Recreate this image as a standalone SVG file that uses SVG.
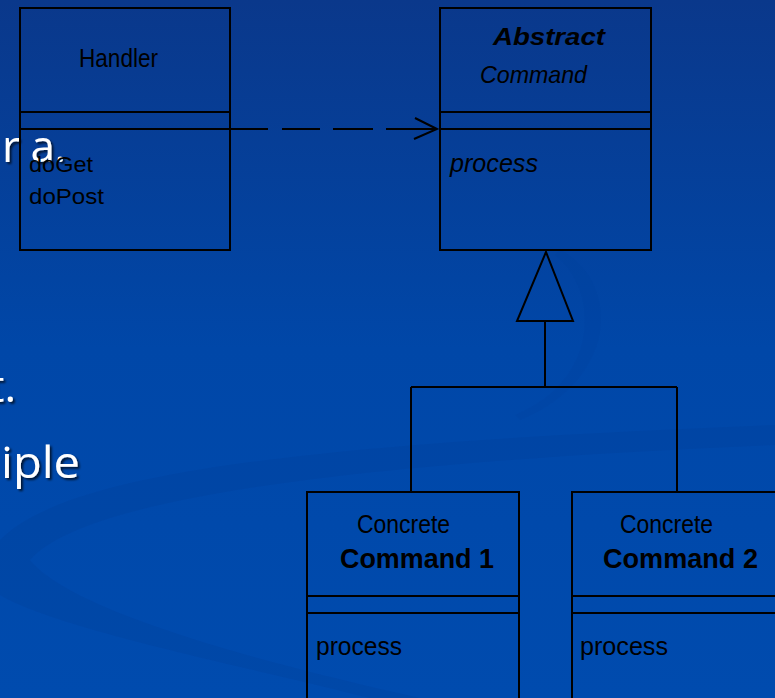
<svg xmlns="http://www.w3.org/2000/svg" width="775" height="698" viewBox="0 0 775 698">
<defs>
<linearGradient id="bg" x1="0" y1="0" x2="0" y2="1">
<stop offset="0" stop-color="#0a388b"/>
<stop offset="0.5" stop-color="#0047a8"/>
<stop offset="1" stop-color="#004bae"/>
</linearGradient>
<filter id="sh" x="-20%" y="-20%" width="140%" height="140%">
<feDropShadow dx="2" dy="2" stdDeviation="1" flood-color="#000" flood-opacity="0.7"/>
</filter>
</defs>
<style>
.box{fill:none;stroke:#000;stroke-width:2}
.ln{fill:none;stroke:#000;stroke-width:2}
.t{font-family:"Liberation Sans",Arial,sans-serif;fill:#000}
.it{font-style:italic}
.b{font-weight:bold}
.w{font-family:"Open Sans","Liberation Sans",sans-serif;font-size:44px;fill:#fff;filter:url(#sh)}
</style>
<rect width="775" height="698" fill="url(#bg)"/>
<g id="swoosh">
<path d="M0,540 C60,480 250,445 775,425 L775,445 C420,460 90,490 30,560 C70,610 250,660 420,698 L370,698 C240,665 60,630 0,595 Z" fill="#003a90" opacity="0.2"/>
<path d="M560,250 C620,280 620,380 520,420 L515,415 C600,380 600,290 555,255 Z" fill="#003a90" opacity="0.1"/>
</g>
<g id="slide-text">
<text class="w" x="2" y="162" textLength="64" lengthAdjust="spacing">r a.</text>
<text class="w" x="16" y="402" text-anchor="end">t.</text>
<text class="w" x="1" y="478" textLength="79" lengthAdjust="spacingAndGlyphs">iple</text>
</g>
<g id="connectors">
<path class="ln" d="M230,129H268 M282,129H320 M333,129H373 M386,129H437"/>
<polyline class="ln" points="415,118 437,129 414,139"/>
<polygon class="ln" points="546,252 517,321 573,321"/>
<path class="ln" d="M545,321V387 M411,387H677 M411,387V492 M677,387V492"/>
</g>
<g id="handler">
<rect class="box" x="20" y="8" width="210" height="242"/>
<path class="ln" d="M20,112H230 M20,129H230"/>
<text class="t" x="79" y="67" font-size="25" textLength="79" lengthAdjust="spacingAndGlyphs">Handler</text>
<text class="t" x="29" y="172" font-size="22" textLength="64" lengthAdjust="spacingAndGlyphs">doGet</text>
<text class="t" x="29" y="204" font-size="22" textLength="75" lengthAdjust="spacingAndGlyphs">doPost</text>
</g>
<g id="abstract-command">
<rect class="box" x="440" y="8" width="211" height="242"/>
<path class="ln" d="M440,112H651 M440,129H651"/>
<text class="t it b" x="493" y="45" font-size="23" textLength="112" lengthAdjust="spacingAndGlyphs">Abstract</text>
<text class="t it" x="480" y="83" font-size="24" textLength="107" lengthAdjust="spacingAndGlyphs">Command</text>
<text class="t it" x="450" y="172" font-size="26" textLength="88" lengthAdjust="spacingAndGlyphs">process</text>
</g>
<g id="concrete-command-1">
<rect class="box" x="307" y="492" width="212" height="230"/>
<path class="ln" d="M307,596H519 M307,613H519"/>
<text class="t" x="357" y="533" font-size="25" textLength="93" lengthAdjust="spacingAndGlyphs">Concrete</text>
<text class="t b" x="340" y="568" font-size="27" textLength="154" lengthAdjust="spacingAndGlyphs">Command 1</text>
<text class="t" x="316" y="655" font-size="26" textLength="86" lengthAdjust="spacingAndGlyphs">process</text>
</g>
<g id="concrete-command-2">
<rect class="box" x="572" y="492" width="212" height="230"/>
<path class="ln" d="M572,596H784 M572,613H784"/>
<text class="t" x="620" y="533" font-size="25" textLength="93" lengthAdjust="spacingAndGlyphs">Concrete</text>
<text class="t b" x="603" y="568" font-size="27" textLength="155" lengthAdjust="spacingAndGlyphs">Command 2</text>
<text class="t" x="580" y="655" font-size="26" textLength="88" lengthAdjust="spacingAndGlyphs">process</text>
</g>
</svg>
